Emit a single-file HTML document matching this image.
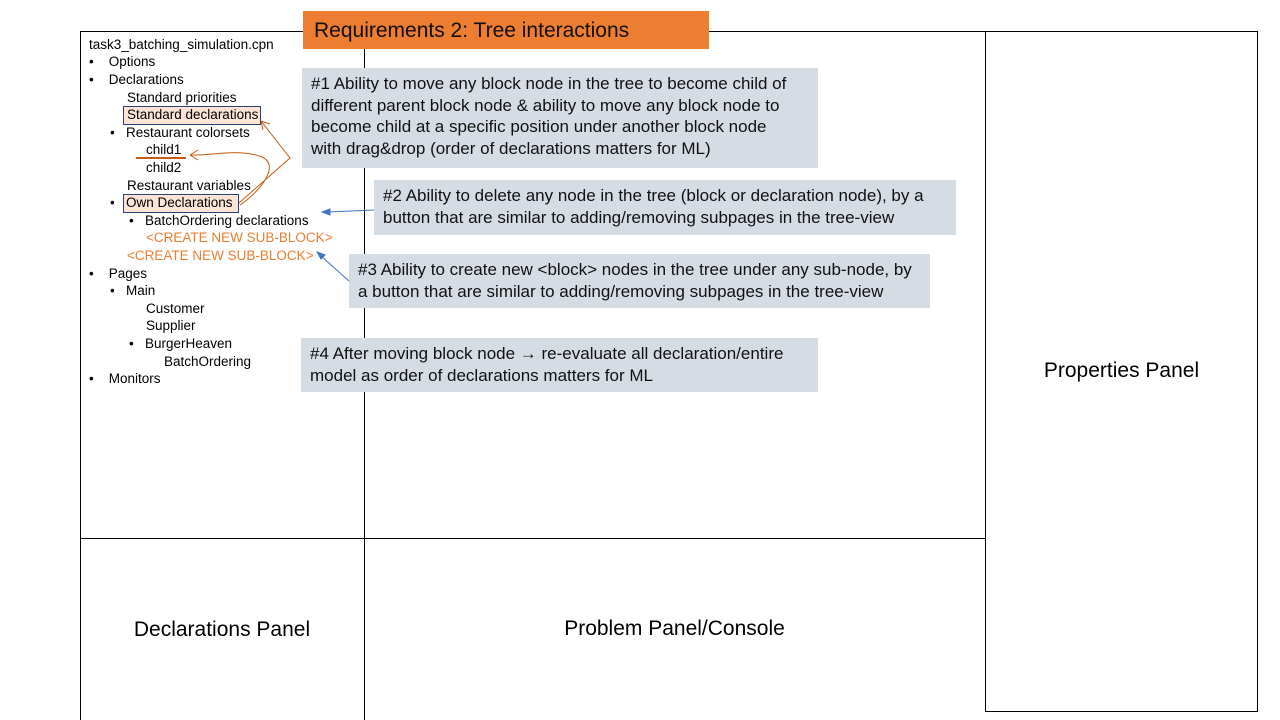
<!DOCTYPE html>
<html><head><meta charset="utf-8"><style>
body{margin:0;width:1280px;height:720px;background:#fff;position:relative;overflow:hidden;font-family:"Liberation Sans",sans-serif}
.t{position:absolute;font-size:13.5px;color:#000;white-space:nowrap;line-height:17px}
.o{color:#ed7d31}
.box{position:absolute;background:#d6dce4;font-size:17px;line-height:21.5px;padding:5px 9px;box-sizing:border-box;color:#111;white-space:nowrap}
.hl{position:absolute;border:1px solid #2f3f6f;background:#fbe5d6}
.b{position:absolute}
</style></head><body>
<div class="b" style="left:80px;top:31px;width:1px;height:689px;background:#000"></div>
<div class="b" style="left:364px;top:31px;width:1px;height:689px;background:#000"></div>
<div class="b" style="left:80px;top:31px;width:905px;height:1px;background:#000"></div>
<div class="b" style="left:80px;top:538px;width:905px;height:1px;background:#000"></div>
<div class="b" style="left:985px;top:31px;width:273px;height:681px;border:1px solid #000;box-sizing:border-box"></div>
<div class="b" style="left:303px;top:11px;width:406px;height:38px;background:#ed7d31;font-size:21px;line-height:40px;padding-left:11px;box-sizing:border-box;color:#111">Requirements 2: Tree interactions</div>

<div class="hl" style="left:123px;top:106px;width:136px;height:17px"></div>
<div class="hl" style="left:123px;top:194px;width:114px;height:17px"></div>
<div class="b" style="left:136px;top:157px;width:50px;height:2px;background:#c55a11"></div>

<div class="t" style="left:89px;top:36px">task3_batching_simulation.cpn</div>
<div class="t" style="left:89px;top:53px">•&nbsp;&nbsp;&nbsp;&nbsp;Options</div>
<div class="t" style="left:89px;top:71px">•&nbsp;&nbsp;&nbsp;&nbsp;Declarations</div>
<div class="t" style="left:127px;top:89px">Standard priorities</div>
<div class="t" style="left:127px;top:106px">Standard declarations</div>
<div class="t" style="left:110px;top:124px">•&nbsp;&nbsp;&nbsp;Restaurant colorsets</div>
<div class="t" style="left:146px;top:141px">child1</div>
<div class="t" style="left:146px;top:159px">child2</div>
<div class="t" style="left:127px;top:177px">Restaurant variables</div>
<div class="t" style="left:110px;top:194px">•&nbsp;&nbsp;&nbsp;Own Declarations</div>
<div class="t" style="left:129px;top:212px">•&nbsp;&nbsp;&nbsp;BatchOrdering declarations</div>
<div class="t o" style="left:146px;top:229px">&lt;CREATE NEW SUB-BLOCK&gt;</div>
<div class="t o" style="left:127px;top:247px">&lt;CREATE NEW SUB-BLOCK&gt;</div>
<div class="t" style="left:89px;top:265px">•&nbsp;&nbsp;&nbsp;&nbsp;Pages</div>
<div class="t" style="left:110px;top:282px">•&nbsp;&nbsp;&nbsp;Main</div>
<div class="t" style="left:146px;top:300px">Customer</div>
<div class="t" style="left:146px;top:317px">Supplier</div>
<div class="t" style="left:129px;top:335px">•&nbsp;&nbsp;&nbsp;BurgerHeaven</div>
<div class="t" style="left:164px;top:353px">BatchOrdering</div>
<div class="t" style="left:89px;top:370px">•&nbsp;&nbsp;&nbsp;&nbsp;Monitors</div>

<div class="box" style="left:302px;top:68px;width:516px;height:100px">#1 Ability to move any block node in the tree to become child of<br>different parent block node &amp; ability to move any block node to<br>become child at a specific position under another block node<br>with drag&amp;drop (order of declarations matters for ML)</div>
<div class="box" style="left:374px;top:180px;width:582px;height:55px">#2 Ability to delete any node in the tree (block or declaration node), by a<br>button that are similar to adding/removing subpages in the tree-view</div>
<div class="box" style="left:349px;top:254px;width:581px;height:54px">#3 Ability to create new &lt;block&gt; nodes in the tree under any sub-node, by<br>a button that are similar to adding/removing subpages in the tree-view</div>
<div class="box" style="left:301px;top:338px;width:517px;height:54px">#4 After moving block node → re-evaluate all declaration/entire<br>model as order of declarations matters for ML</div>

<svg class="b" style="left:0;top:0" width="1280" height="720">
<g fill="none" stroke="#c55a11" stroke-width="1">
<path d="M239 203 L290 158 L261 121"/>
<path d="M261 121 l2 9 M261 121 l9 3"/>
<path d="M240 205 C262 190 280 165 262 157 C240 148 210 156 190 155"/>
<path d="M190 155 l8 -5 M190 155 l8 5"/>
</g>
<g stroke="#4472c4" stroke-width="1" fill="#4472c4">
<line x1="374" y1="210" x2="328" y2="212"/>
<path d="M322 212 l8 -3 l0 6z"/>
<line x1="349" y1="281" x2="321" y2="256"/>
<path d="M317 252 l8 3 l-4 4z"/>
</g>
</svg>

<div class="b" style="left:80px;top:618px;width:284px;text-align:center;font-size:21px">Declarations Panel</div>
<div class="b" style="left:364px;top:617px;width:621px;text-align:center;font-size:21px">Problem Panel/Console</div>
<div class="b" style="left:985px;top:359px;width:273px;text-align:center;font-size:21px">Properties Panel</div>
</body></html>
